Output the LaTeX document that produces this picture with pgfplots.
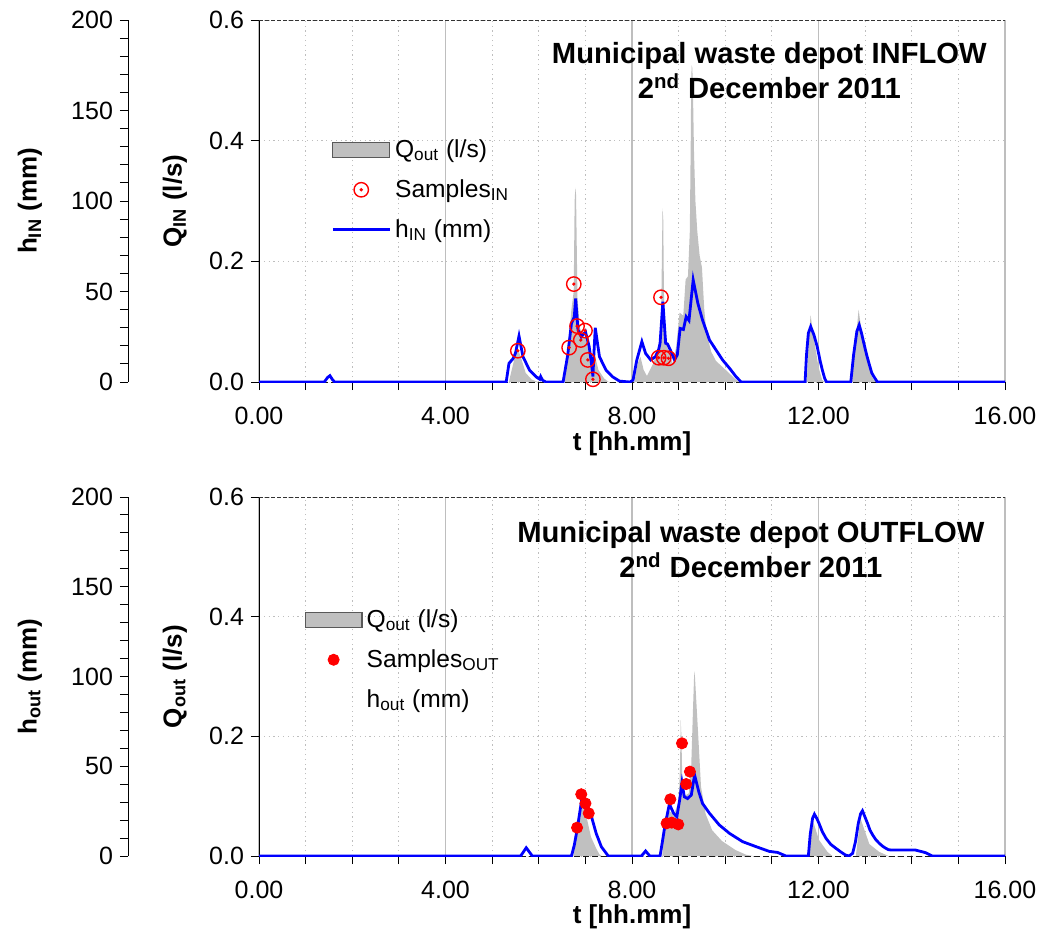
\documentclass[border=0pt]{standalone}
\usepackage{fontspec}
\setmainfont{Liberation Sans}
\usepackage{pgfplots}
\pgfplotsset{compat=1.18}
\definecolor{qgray}{HTML}{C0C0C0}
\definecolor{gridgray}{HTML}{BEBEBE}
\definecolor{hblue}{HTML}{0000FF}
\definecolor{sred}{HTML}{FF0000}

% circle with a dot in the middle (sample marker of the inflow panel)
\pgfdeclareplotmark{odot}{%
  \pgfpathcircle{\pgfpointorigin}{\pgfplotmarksize}\pgfusepathqstroke
  \pgfpathcircle{\pgfpointorigin}{0.25\pgfplotmarksize}\pgfusepathqfill}

\tikzset{
  titlenode/.style={anchor=north east, align=center, inner sep=0pt,
    font=\bfseries\fontsize{14.6}{17.8}\selectfont},
  tfont/.style={font=\fontsize{12.5}{14}\selectfont},
  lfont/.style={font=\bfseries\fontsize{13}{15}\selectfont},
}

\pgfplotsset{
  qaxis/.style={
    scale only axis, width=373pt,
    xmin=0, xmax=16, ymin=0, ymax=0.6,
    axis x line=bottom, axis y line=left, axis line style={-},
    x axis line style={dash pattern=on 3pt off 1.5pt},
    tick align=outside, major tick length=4pt, minor tick length=4pt,
    every tick/.style={black, solid, line width=0.5pt},
    xtick={0,4,...,16}, minor x tick num=3,
    ytick={0,0.2,0.4,0.6},
    xmajorgrids, xminorgrids, ymajorgrids,
    major x grid style={gridgray, line width=0.8pt},
    minor x grid style={gridgray, dash pattern=on 0.6pt off 1.8pt},
    major y grid style={gridgray, dash pattern=on 0.6pt off 1.8pt},
    extra y ticks={0.6}, extra y tick labels={},
    extra y tick style={major y grid style={black!80, solid, dash pattern=on 2pt off 1pt, line width=0.5pt}},
    tick label style={tfont},
    xticklabel style={yshift=-5pt},
    /pgf/number format/assume math mode=true,
    x tick label style={/pgf/number format/fixed, /pgf/number format/fixed zerofill, /pgf/number format/precision=2},
    y tick label style={/pgf/number format/fixed, /pgf/number format/fixed zerofill, /pgf/number format/precision=1},
    xlabel={\textbf{t [hh.mm]}},
    label style={lfont},
    every axis y label/.style={at={(rel axis cs:-0.1126,0.5)}, rotate=90, anchor=center, lfont},
  },
  haxis/.style={
    scale only axis, width=438.57pt,
    xmin=-2.81, xmax=16, ymin=0, ymax=200,
    axis x line=none, axis y line=left, axis line style={-},
    tick align=outside, major tick length=4pt, minor tick length=4pt,
    every tick/.style={black, line width=0.5pt},
    ytick={0,50,...,200}, minor y tick num=4,
    tick label style={tfont},
    /pgf/number format/assume math mode=true,
    every axis y label/.style={at={(rel axis cs:-0.1117,0.5)}, rotate=90, anchor=center, lfont},
    legend cell align=left,
    legend image code/.code={\draw[mark repeat=2,mark phase=2] plot coordinates {(0cm,0cm) (0.5cm,0cm) (1cm,0cm)};},
    legend style={draw=none, fill=none, anchor=north west,
      font=\fontsize{12.3}{14}\selectfont, row sep=5.5pt},
  },
}

% ---------------- INFLOW ----------------
\pgfplotstableread{
t q
0 0
5.36 0
5.42 0.02
5.50 0.045
5.55 0.056
5.62 0.04
5.72 0.015
5.85 0.004
5.99 0
6.55 0
6.62 0.04
6.70 0.12
6.75 0.15
6.77 0.30
6.785 0.322
6.80 0.31
6.83 0.14
6.88 0.09
6.95 0.075
7.02 0.07
7.10 0.04
7.15 0.02
7.20 0.045
7.28 0.02
7.40 0.006
7.50 0
8.05 0
8.12 0.03
8.18 0.042
8.25 0.02
8.32 0.01
8.45 0.03
8.55 0.05
8.62 0.08
8.64 0.2
8.655 0.288
8.67 0.27
8.685 0.15
8.70 0.08
8.78 0.05
8.88 0.03
8.95 0.06
9.02 0.115
9.10 0.11
9.15 0.17
9.20 0.175
9.24 0.25
9.26 0.40
9.27 0.50
9.28 0.525
9.295 0.52
9.31 0.47
9.33 0.38
9.36 0.30
9.40 0.25
9.45 0.21
9.50 0.19
9.55 0.12
9.60 0.08
9.70 0.05
9.80 0.035
10.01 0.02
10.20 0.006
10.30 0
11.75 0
11.79 0.07
11.83 0.111
11.90 0.072
12.00 0.025
12.08 0.003
12.15 0
12.72 0
12.80 0.07
12.86 0.12
12.95 0.07
13.06 0.03
13.17 0.005
13.25 0
16 0
}\qin

\pgfplotstableread{
t h
0 0
1.40 0
1.47 2.5
1.52 3.5
1.57 1.5
1.62 0
5.30 0
5.36 10.3
5.45 13
5.50 16
5.575 25.4
5.66 14
5.80 6.6
5.94 2.9
6.02 1.5
6.04 3
6.08 1.0
6.15 0
6.52 0
6.62 15
6.70 32.4
6.76 36
6.79 46.2
6.84 28.7
6.91 25
7.00 27.8
7.08 19.5
7.13 10
7.16 3
7.18 15
7.21 30
7.30 14
7.44 6.6
7.58 2.9
7.73 0.5
7.95 0
8.02 1
8.10 12
8.21 22.3
8.29 15.8
8.40 12.2
8.50 14
8.57 18
8.60 21.4
8.66 44.4
8.72 21.4
8.76 21
8.82 17.7
8.91 12.2
8.97 15
9.03 29.6
9.10 29
9.16 36.1
9.22 34
9.31 56.4
9.41 43.5
9.51 34.3
9.66 23.2
9.80 17.7
9.94 12.2
10.09 7.6
10.23 2.9
10.34 0
11.71 0
11.74 15
11.78 27
11.83 30.6
11.90 26
11.97 19.5
12.03 12
12.08 6.6
12.13 2
12.17 0
12.69 0
12.75 15
12.82 28
12.87 31.5
12.92 27
12.97 21.4
13.03 15
13.08 10.3
13.14 5
13.19 2.8
13.26 0
16 0
}\hin

\pgfplotstableread{
t h
5.55 17.3
6.65 19.0
6.75 54.1
6.82 30.9
6.90 23.2
6.99 28.4
7.05 12.2
7.16 1.5
8.62 46.8
8.57 13.4
8.68 13.4
8.78 13.1
}\sin

% ---------------- OUTFLOW ----------------
\pgfplotstableread{
t q
0 0
6.74 0
6.80 0.03
6.88 0.07
6.95 0.085
7.04 0.06
7.12 0.032
7.23 0.013
7.30 0.003
7.35 0
8.65 0
8.70 0.064
8.80 0.075
8.90 0.07
9.00 0.09
9.03 0.15
9.045 0.227
9.06 0.2
9.08 0.12
9.12 0.1
9.22 0.105
9.27 0.15
9.31 0.25
9.335 0.308
9.35 0.30
9.41 0.216
9.48 0.116
9.58 0.07
9.72 0.043
9.93 0.025
10.22 0.01
10.45 0.002
10.6 0
11.79 0
11.88 0.059
12.01 0.027
12.19 0.007
12.30 0
12.80 0
12.90 0.063
13.09 0.02
13.30 0.007
13.50 0
16 0
}\qout

\pgfplotstableread{
t h
0 0
5.61 0
5.73 4.6
5.86 0
6.70 0
6.76 6
6.82 14.5
6.91 29.7
6.98 27.1
7.05 26.5
7.12 22.8
7.23 12.6
7.34 5.2
7.49 0
8.20 0
8.29 2.8
8.38 0
8.60 0
8.65 8
8.70 16.3
8.80 29.0
8.89 23.8
8.96 21.9
9.02 31.2
9.07 40.8
9.12 33.0
9.19 32
9.27 34
9.34 45.1
9.43 35.8
9.51 29.3
9.66 23.8
9.87 17.3
10.09 12.6
10.37 8
10.66 5.2
10.94 2.6
11.12 2
11.30 0
11.78 0
11.82 12
11.87 21
11.91 23.3
11.96 21
12.01 18.1
12.08 13.5
12.16 9.8
12.26 6.5
12.37 4.3
12.48 2.2
12.58 0.5
12.65 0
12.73 1.5
12.79 8
12.85 18.1
12.90 23.5
12.94 25.2
12.99 22
13.05 18.1
13.10 14.5
13.16 11.7
13.23 9
13.30 7.1
13.37 5.5
13.44 4.3
13.50 3.5
13.58 3.3
14.08 3.3
14.29 1.9
14.44 0
16 0
}\hout

\pgfplotstableread{
t h
6.82 15.8
6.91 34.4
7.00 29.3
7.07 23.8
8.74 18.2
8.85 18.6
8.99 17.6
8.82 31.6
9.07 62.8
9.16 40.1
9.24 47.0
}\sout

\begin{document}
\begin{tikzpicture}
\path[use as bounding box] (-129.5pt,-276pt) rectangle (394.5pt,191pt);

% ===== top panel: Q axis =====
\begin{axis}[qaxis, height=181pt, at={(0pt,0pt)}, anchor=south west,
  ylabel={Q\textsubscript{IN} (l/s)},
  xlabel style={at={(rel axis cs:0.5,-0.17)}, anchor=center}]
\addplot[fill=qgray, draw=none] table[x=t, y=q] {\qin} \closedcycle;
\node[titlenode] at (rel axis cs:0.976,0.940)
  {Municipal waste depot INFLOW\\2\textsuperscript{nd} December 2011};
\end{axis}
% ===== top panel: h axis =====
\begin{axis}[haxis, height=181pt, at={(-65.5pt,0pt)}, anchor=south west,
  ylabel={h\textsubscript{IN} (mm)},
  legend style={at={(0.2246,0.693)}}]
\addplot[hblue, line width=1.4pt, forget plot] table[x=t, y=h] {\hin};
\addlegendimage{legend image code/.code={\draw[fill=qgray, draw=black!65, line width=0.6pt] (0cm,-0.135cm) rectangle (1cm,0.135cm);}}
\addplot[only marks, mark=odot, mark size=3.6pt, sred, line width=0.7pt, mark options={fill=sred}] table[x=t, y=h] {\sin};
\addlegendimage{hblue, line width=1.4pt}
\legend{Q\textsubscript{out} (l/s), Samples\textsubscript{IN}, h\textsubscript{IN} (mm)}
\end{axis}

% ===== bottom panel: Q axis =====
\begin{axis}[qaxis, height=179.5pt, at={(0pt,-237pt)}, anchor=south west,
  ylabel={Q\textsubscript{out} (l/s)},
  xlabel style={at={(rel axis cs:0.5,-0.168)}, anchor=center}]
\addplot[fill=qgray, draw=none] table[x=t, y=q] {\qout} \closedcycle;
\node[titlenode] at (rel axis cs:0.973,0.934)
  {Municipal waste depot OUTFLOW\\2\textsuperscript{nd} December 2011};
\end{axis}
% ===== bottom panel: h axis =====
\begin{axis}[haxis, height=179.5pt, at={(-65.5pt,-237pt)}, anchor=south west,
  ylabel={h\textsubscript{out} (mm)},
  legend style={at={(0.194,0.71)}}]
\addplot[hblue, line width=1.4pt, forget plot] table[x=t, y=h] {\hout};
\addlegendimage{legend image code/.code={\draw[fill=qgray, draw=black!65, line width=0.6pt] (0cm,-0.135cm) rectangle (1cm,0.135cm);}}
\addplot[only marks, mark=*, mark size=2.8pt, sred, mark options={fill=sred, draw=sred}] table[x=t, y=h] {\sout};
\addlegendimage{legend image code/.code={}}
\legend{Q\textsubscript{out} (l/s), Samples\textsubscript{OUT}, h\textsubscript{out} (mm)}
\end{axis}
\end{tikzpicture}
\end{document}
